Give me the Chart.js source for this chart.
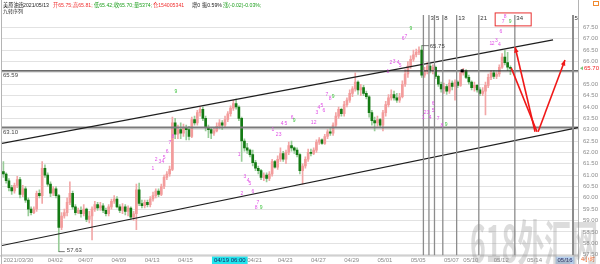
<!DOCTYPE html>
<html><head><meta charset="utf-8">
<script src="https://cdn.jsdelivr.net/npm/chart.js@4.4.1/dist/chart.umd.min.js"></script>
<style>html,body{margin:0;padding:0;background:#fff;overflow:hidden}canvas{display:block}</style>
</head><body>
<canvas id="c" width="600" height="264" style="width:600px;height:264px"></canvas>
<script>
// ---------- DATA (4h bars, 美原油连) ----------
const opens = [61.15,61.05,60.75,60.45,60.3,60.55,60.8,60.15,60.4,59.9,59.5,59.35,59.5,60.2,60.1,61.3,61.0,60.6,60.2,60.4,
60.1,58.7,59.2,59.35,59.8,60.2,59.6,59.35,59.45,59.3,59.5,59.05,59.2,59.5,59.7,59.55,59.65,59.45,59.3,59.6,
59.85,59.95,59.6,59.45,59.6,59.4,59.55,59.15,59.3,60.35,59.75,59.65,59.8,59.7,59.95,60.1,60.3,60.15,60.5,60.9,
61.05,61.25,63.3,62.8,63.0,62.85,63.1,63.0,62.7,63.45,63.3,63.75,63.9,63.5,63.1,63.0,62.85,62.95,63.15,63.3,
63.2,63.45,63.7,63.95,64.15,64.0,63.5,62.5,62.2,62.1,61.9,61.55,61.3,61.2,60.9,61.0,60.85,61.05,61.6,61.35,
61.7,61.95,61.7,62.0,62.3,62.2,62.1,61.9,61.2,61.4,61.7,62.0,61.95,62.1,62.45,62.55,62.4,62.7,62.9,62.85,
63.2,63.6,63.9,63.7,64.1,64.3,64.6,64.8,65.1,64.75,64.85,64.6,64.45,63.75,63.4,63.3,63.45,63.2,63.75,64.1,
64.4,64.55,64.4,64.3,64.45,65.0,65.45,65.8,66.1,66.3,66.4,66.5,65.4,65.6,65.8,65.6,65.75,65.35,65.0,64.8,
64.9,64.7,65.05,64.9,65.1,64.95,65.5,65.6,65.3,65.1,64.85,64.95,64.75,64.6,64.7,64.95,65.3,65.5,65.35,65.45,
65.75,66.2,65.95,65.75];
const highs = [61.6,61.1,60.85,60.55,60.65,60.95,60.9,60.55,60.5,60.0,59.6,59.6,60.3,60.35,61.6,61.45,61.1,60.7,60.5,60.5,
60.15,59.35,59.5,60.0,60.7,60.3,59.7,59.55,59.6,59.7,59.55,59.4,59.6,59.85,59.8,59.8,59.75,59.55,59.7,59.95,
60.1,60.05,59.7,59.75,59.7,59.65,59.6,59.4,60.6,60.65,59.9,59.9,59.9,60.05,60.25,60.4,60.4,60.6,61.0,61.15,
61.4,63.55,63.5,63.2,63.3,63.25,63.2,63.15,63.55,63.6,63.85,64.0,64.0,63.6,63.2,63.1,63.1,63.3,63.45,63.4,
63.6,63.8,64.05,64.3,64.35,64.05,63.55,62.6,62.4,62.15,62.1,61.65,61.4,61.25,61.1,61.1,61.15,61.7,61.65,61.85,
62.2,62.05,62.1,62.45,62.5,62.25,62.2,61.95,61.5,61.8,62.15,62.15,62.2,62.55,62.65,62.6,62.8,63.0,63.05,63.3,
63.75,64.0,63.95,64.25,64.4,64.75,64.9,65.5,65.15,65.0,64.95,64.7,64.5,63.85,63.55,63.6,63.5,63.85,64.25,64.55,
64.75,64.7,64.6,64.6,65.15,65.65,66.0,66.25,66.5,66.55,66.65,66.7,65.75,65.95,65.9,65.85,65.8,65.4,65.1,65.05,
65.0,65.2,65.15,65.2,65.15,65.6,65.7,65.65,65.4,65.15,65.1,65.0,64.85,64.85,65.1,65.45,65.6,65.6,65.55,65.85,
66.35,66.5,66.4,65.81];
const lows = [60.9,60.65,60.3,60.15,60.2,60.45,60.0,60.05,59.8,59.2,59.25,59.3,59.4,60.0,59.75,60.9,60.5,60.05,60.1,60.0,
57.63,58.6,59.1,59.2,59.7,59.5,59.25,59.3,59.15,59.2,58.95,58.9,58.15,59.4,59.45,59.45,59.35,59.2,59.2,59.5,
59.75,59.55,59.35,59.3,59.25,59.2,59.05,59.0,58.6,59.65,59.55,59.55,59.6,59.6,59.85,60.0,60.05,60.1,60.4,60.8,
60.95,61.2,62.6,62.6,62.6,62.7,62.55,62.55,62.65,63.2,63.2,63.6,63.4,62.95,62.65,62.6,62.75,62.9,63.05,63.0,
63.1,63.35,63.6,63.85,63.9,63.4,61.6,62.05,61.95,61.8,61.4,61.2,61.05,60.8,60.75,60.7,60.75,60.95,61.3,61.25,
61.6,61.6,61.5,61.9,62.05,61.95,61.8,61.05,60.6,61.3,61.6,61.85,61.9,62.0,62.35,62.35,62.35,62.6,62.75,62.75,
63.1,63.5,63.6,63.6,64.0,64.2,64.45,64.7,64.55,64.5,64.5,64.35,63.55,63.2,62.95,63.15,63.1,62.95,63.6,64.0,
64.3,64.3,64.2,64.2,64.4,64.9,65.3,65.7,66.0,66.2,66.3,65.3,65.3,65.45,65.5,65.45,65.25,64.9,64.65,64.6,
64.55,64.6,64.75,64.3,64.85,64.9,65.4,65.25,65.0,64.75,64.7,64.65,64.5,64.5,63.65,64.85,65.2,65.25,65.25,65.35,
65.7,65.85,65.6,65.42];
const closes = [61.05,60.75,60.45,60.3,60.55,60.8,60.15,60.4,59.9,59.5,59.35,59.5,60.2,60.1,61.3,61.0,60.6,60.2,60.4,60.1,
58.7,59.2,59.35,59.8,60.2,59.6,59.35,59.45,59.3,59.5,59.05,59.2,59.5,59.7,59.55,59.65,59.45,59.3,59.6,59.85,
59.95,59.6,59.45,59.6,59.4,59.55,59.15,59.3,60.35,59.75,59.65,59.8,59.7,59.95,60.1,60.3,60.15,60.5,60.9,61.05,
61.25,63.3,62.8,63.0,62.85,63.1,63.0,62.7,63.45,63.3,63.75,63.9,63.5,63.1,63.0,62.85,62.95,63.15,63.3,63.2,
63.45,63.7,63.95,64.15,64.0,63.5,62.5,62.2,62.1,61.9,61.55,61.3,61.2,60.9,61.0,60.85,61.05,61.6,61.35,61.7,
61.95,61.7,62.0,62.3,62.2,62.1,61.9,61.2,61.4,61.7,62.0,61.95,62.1,62.45,62.55,62.4,62.7,62.9,62.85,63.2,
63.6,63.9,63.7,64.1,64.3,64.6,64.8,65.1,64.75,64.85,64.6,64.45,63.75,63.4,63.3,63.45,63.2,63.75,64.1,64.4,
64.55,64.4,64.3,64.45,65.0,65.45,65.8,66.1,66.3,66.4,66.5,65.4,65.6,65.8,65.6,65.75,65.35,65.0,64.8,64.9,
64.7,65.05,64.9,65.1,64.95,65.5,65.6,65.3,65.1,64.85,64.95,64.75,64.6,64.7,64.95,65.3,65.5,65.35,65.45,65.75,
66.2,65.95,65.75,65.70];

const xTickIdx  = [0,16,27,39,51,63,76,88,99,111,123,135,147,159,166,177,189,200];
const xTickText = ['2021/03/30','04/02','04/07','04/09','04/13','04/15','04/19 06:00','04/21','04/23','04/27','04/29','05/01','05/05','05/07','05/10','05/12','05/14','05/16'];
const xHighlightIdx = [76, 200];
const yTickValues = [57.5,58,58.5,59,59.5,60,60.5,61,61.5,62,62.5,63,63.5,64,64.5,65,65.5,66,66.5,67,67.5];

const hLevels = [65.59, 63.10];
const hLabels = ['65.59', '63.10'];
const trendUpper = [-0.5, 62.40, 198.4, 66.95];
const trendLower = [-0.5, 57.90, 207.4, 63.09];
const fibBase = 150.6;
const fibSteps  = [1, 3, 5, 8, 13, 21, 34, 55];
const fibLabels = ['', '3', '5', '8', '13', '21', '34', '55'];
const redLines = [[184.7,66.64,191.9,62.91],[183.3,65.72,192.6,62.91],[193.0,62.91,202.7,66.07]];
const redBox = [177.5, 68.14, 190.5, 67.57];
const highMark = {i:151, v:66.7, text:'65.75'};
const lowMark = {i:20, v:57.63, text:'57.63'};
const squareMark = {i:165.6, v:65.59};

const tdIdx = [54.0,55.1,56.5,57.6,58.0,59.1,60.1,61.2,62.3,
 85.1,86.1,87.2,88.3,89.0,90.1,91.9,91.2,93.0,
 97.3,98.8,99.9,100.6,102.0,104.2,104.9,
 111.4,112.5,113.2,113.9,115.0,115.7,116.8,117.9,119.0,
 138.8,139.9,141.0,142.5,143.2,144.3,145.3,147.1,
 151.5,152.2,153.3,154.0,155.1,155.1,156.9,158.3,159.8,
 176.0,176.8,177.9,179.0,179.6,180.4,181.1,182.9];
const tdVal = [61.28,61.68,61.59,61.59,61.77,62.04,62.44,62.71,64.66,
 61.9,60.17,60.93,60.75,60.62,60.26,59.77,59.55,59.59,
 63.02,62.79,62.79,63.28,63.28,63.55,63.42,
 63.32,63.32,63.73,63.95,64.04,63.86,64.53,64.35,64.44,
 65.55,65.95,66.0,65.95,65.82,67.02,67.11,67.47,
 63.54,63.77,63.73,63.54,63.86,64.13,63.5,63.19,63.24,
 66.8,66.8,66.93,66.76,67.33,67.74,67.96,67.74];
const tdTxt = ['1','2','3','4','5','6','7','8','9',
 '1','2','3','4','5','6','7','8','9',
 '1','2','3','4','5','6','9',
 '1','2','3','4','5','6','7','8','9',
 '1','2','3','4','5','6','7','9',
 '1','2','3','4','5','6','7','8','9',
 '1','2','3','4','6','7','8','9'];

const headerParts = [['美原油连',3,'#222'],['2021/05/13',23,'#222'],['开65.75;',53,'#f03030'],['高65.81;',73,'#f03030'],
 ['低65.42;',94,'#20a020'],['收65.70;',114,'#20a020'],['量5374;',134,'#20a020'],['仓154005341',153,'#f03030'],
 ['增0',192,'#222'],['振0.59%',202,'#222'],['涨(-0.02)-0.03%;',223,'#20a020']];

// ---------- STYLE ----------
const FONT = '"Liberation Sans", Arial, "Noto Sans CJK SC", sans-serif';
const UP_BODY = '#f39c9c', DN_BODY = '#137a13', UP_WICK = '#f2a8a8', DN_WICK = '#98cc98';

const N = closes.length;
const idx = closes.map((_, i) => i);
const isUp = idx.map(i => closes[i] >= opens[i]);
const lastClose = closes[N - 1];

function seg(ctx, x1, y1, x2, y2) { ctx.beginPath(); ctx.moveTo(x1, y1); ctx.lineTo(x2, y2); ctx.stroke(); }
function arrowHead(ctx, x, y, fx, fy, size) {
  const a = Math.atan2(y - fy, x - fx);
  ctx.beginPath();
  ctx.moveTo(x, y);
  ctx.lineTo(x - size * Math.cos(a - 0.4), y - size * Math.sin(a - 0.4));
  ctx.lineTo(x - size * Math.cos(a + 0.4), y - size * Math.sin(a + 0.4));
  ctx.closePath(); ctx.fill();
}

const overlay = {
  id: 'overlay',
  beforeDraw(chart) {
    const { ctx, chartArea: a } = chart;
    const X = chart.scales.x;
    ctx.save();
    ctx.fillStyle = '#fff'; ctx.fillRect(0, 0, chart.width, chart.height);
    ctx.font = '6px ' + FONT;
    xHighlightIdx.forEach((ti, k) => {
      const t = xTickText[xTickIdx.indexOf(ti)];
      const px = X.getPixelForValue(ti);
      const w = ctx.measureText(t).width;
      ctx.fillStyle = k === 0 ? '#22e6ee' : '#b8d2ee';
      ctx.fillRect(px - 2, a.bottom + 1, w + 4, 8);
    });
    ctx.restore();
  },
  afterDatasetsDraw(chart) {
    const { ctx, chartArea: a } = chart;
    const X = v => chart.scales.x.getPixelForValue(v);
    const Y = v => chart.scales.y.getPixelForValue(v);
    ctx.save();
    ctx.beginPath(); ctx.rect(a.left, 0, a.right - a.left, a.bottom); ctx.clip();
    // horizontal levels
    hLevels.forEach((v, k) => {
      ctx.strokeStyle = k === 0 ? '#3a3a3a' : '#7a7a7a';
      ctx.lineWidth = k === 0 ? 1.3 : 2;
      seg(ctx, a.left, Y(v), a.right, Y(v));
      ctx.fillStyle = '#444'; ctx.font = '6px ' + FONT; ctx.textBaseline = 'top'; ctx.textAlign = 'left';
      ctx.fillText(hLabels[k], a.left + 1, Y(v) + 1.5);
    });
    // channel trendlines
    ctx.strokeStyle = '#1e1e1e'; ctx.lineWidth = 1.2;
    [trendUpper, trendLower].forEach(t => seg(ctx, X(t[0]), Y(t[1]), X(t[2]), Y(t[3])));
    // fibonacci time zones
    fibSteps.forEach((s, k) => {
      const px = X(fibBase + s);
      ctx.strokeStyle = '#8c8c8c'; ctx.lineWidth = (s === 55) ? 2 : 1.3;
      seg(ctx, px, a.top + 1, px, a.bottom);
      if (fibLabels[k]) {
        ctx.fillStyle = '#333'; ctx.font = '6px ' + FONT; ctx.textBaseline = 'middle'; ctx.textAlign = 'left';
        ctx.fillText(fibLabels[k], px + 1.5, a.top + 4.5);
      }
    });
    // TD sequential numbers
    ctx.font = '5px ' + FONT; ctx.textAlign = 'center'; ctx.textBaseline = 'middle';
    tdIdx.forEach((ti, k) => {
      ctx.fillStyle = tdTxt[k] === '9' ? '#3cc23c' : '#e050e6';
      ctx.fillText(tdTxt[k], X(ti), Y(tdVal[k]));
    });
    // high / low marks
    ctx.strokeStyle = '#555'; ctx.lineWidth = 0.8; ctx.fillStyle = '#444'; ctx.font = '6px ' + FONT;
    ctx.textAlign = 'left'; ctx.textBaseline = 'middle';
    let hx = X(highMark.i), hy = Y(highMark.v);
    seg(ctx, hx, hy, hx + 7, hy); ctx.fillText(highMark.text, hx + 8, hy + 1);
    let lx = X(lowMark.i), ly = Y(lowMark.v);
    seg(ctx, lx, ly, lx + 6, ly); ctx.fillText(lowMark.text, lx + 8, ly - 1);
    // square marker
    ctx.fillStyle = '#000';
    ctx.fillRect(X(squareMark.i) - 1.5, Y(squareMark.v) - 1.5, 3, 3);
    // red arrows
    ctx.strokeStyle = '#f01818'; ctx.fillStyle = '#f01818'; ctx.lineWidth = 1.6;
    redLines.forEach(l => seg(ctx, X(l[0]), Y(l[1]), X(l[2]), Y(l[3])));
    const l0 = redLines[0], l2 = redLines[2];
    arrowHead(ctx, X(l0[0]), Y(l0[1]), X(l0[2]), Y(l0[3]), 6);
    arrowHead(ctx, X(l2[2]), Y(l2[3]), X(l2[0]), Y(l2[1]), 6);
    ctx.restore();
  },
  afterDraw(chart) {
    const { ctx, chartArea: a } = chart;
    const X = v => chart.scales.x.getPixelForValue(v);
    const Y = v => chart.scales.y.getPixelForValue(v);
    ctx.save();
    // frame lines
    ctx.strokeStyle = '#b4b4b4'; ctx.lineWidth = 1;
    seg(ctx, 1.5, 0, 1.5, chart.height);
    seg(ctx, a.right + 0.5, 0, a.right + 0.5, chart.height);
    seg(ctx, 0, a.bottom + 0.5, a.right, a.bottom + 0.5);
    // red box around 34
    ctx.strokeStyle = '#e83030'; ctx.lineWidth = 1;
    ctx.strokeRect(X(redBox[0]), Y(redBox[1]), X(redBox[2]) - X(redBox[0]), Y(redBox[3]) - Y(redBox[1]));
    // current price tag
    ctx.font = '6px ' + FONT; ctx.textBaseline = 'middle'; ctx.textAlign = 'left';
    ctx.fillStyle = '#f02020'; ctx.fillText(lastClose.toFixed(2), a.right + 6, Y(lastClose));
    ctx.fillStyle = '#7cc47c';
    ctx.beginPath(); ctx.moveTo(a.right + 2, Y(lastClose)); ctx.lineTo(a.right + 5, Y(lastClose) - 2); ctx.lineTo(a.right + 5, Y(lastClose) + 2); ctx.fill();
    // header
    ctx.font = '5.2px ' + FONT; ctx.textBaseline = 'middle';
    headerParts.forEach(p => { ctx.fillStyle = p[2]; ctx.fillText(p[0], p[1], 5.5); });
    ctx.fillStyle = '#222'; ctx.font = '5px ' + FONT; ctx.fillText('九转序列', 3, 12);
    // timeframe
    ctx.fillStyle = '#f05a1a'; ctx.font = '5.5px ' + FONT; ctx.fillText('4小时', a.right + 3, a.bottom + 4.5);
    // icon
    ctx.strokeStyle = '#f08a30'; ctx.strokeRect(593.5, 1.5, 5, 4);
    // watermark
    ctx.globalAlpha = 0.3; ctx.fillStyle = '#8c8c8c';
    ctx.font = 'bold 50px "Noto Sans CJK SC", sans-serif'; ctx.textBaseline = 'alphabetic';
    const wm = '618外汇网'; const w = ctx.measureText(wm).width;
    ctx.translate(470, 262); ctx.scale(128 / w, 1); ctx.fillText(wm, 0, 0);
    ctx.restore();
  }
};

Chart.defaults.font.family = FONT;
new Chart(document.getElementById('c'), {
  type: 'bar',
  data: {
    datasets: [
      { label: 'body', data: idx.map(i => ({ x: i, y: [opens[i], closes[i]] })),
        backgroundColor: idx.map(i => isUp[i] ? UP_BODY : DN_BODY),
        barThickness: 2, minBarLength: 1, grouped: false, borderWidth: 0 },
      { label: 'wick', data: idx.map(i => ({ x: i, y: [lows[i], highs[i]] })),
        backgroundColor: idx.map(i => isUp[i] ? UP_WICK : DN_WICK),
        barThickness: 1, grouped: false, borderWidth: 0 }
    ]
  },
  options: {
    responsive: false, animation: false, devicePixelRatio: 1, events: [],
    layout: { padding: { left: 2, top: 14, right: 0, bottom: 0 } },
    plugins: { legend: { display: false }, tooltip: { enabled: false } },
    scales: {
      x: {
        type: 'linear', min: -0.5, max: 207.4, offset: false,
        grid: { display: false, drawTicks: false }, border: { display: false },
        afterBuildTicks: s => { s.ticks = xTickIdx.map(v => ({ value: v })); },
        afterFit: s => { s.height = 8; },
        ticks: {
          autoSkip: false, maxRotation: 0, minRotation: 0, align: 'start', padding: 1,
          font: { size: 6 },
          color: c => (xHighlightIdx.includes(c.tick && c.tick.value) ? '#1a1a5a' : '#8a8a8a'),
          callback: v => { const k = xTickIdx.indexOf(v); return k >= 0 ? xTickText[k] : ''; }
        }
      },
      y: {
        position: 'right', min: 57.465, max: 68.093,
        grid: { color: '#e2e2e2', lineWidth: 1, drawTicks: false }, border: { display: false },
        afterBuildTicks: s => { s.ticks = yTickValues.map(v => ({ value: v })); },
        afterFit: s => { s.width = 22; },
        ticks: {
          padding: 5, font: { size: 6 }, color: '#8c8c8c',
          callback: v => (Math.abs(v - lastClose) < 0.25 ? '' : v.toFixed(2))
        }
      }
    }
  },
  plugins: [overlay]
});
</script>
</body></html>
